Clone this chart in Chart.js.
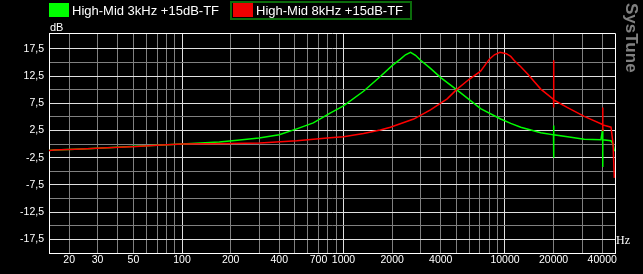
<!DOCTYPE html>
<html>
<head>
<meta charset="utf-8">
<script src="https://cdn.jsdelivr.net/npm/chart.js@4.4.0/dist/chart.umd.min.js"></script>
<style>
  html, body { margin: 0; padding: 0; background: #000; }
  #wrap { width: 643px; height: 274px; }
</style>
</head>
<body>
<div id="wrap"><canvas id="eq"></canvas></div>
<script>
// series labels
const seriesNames = ["High-Mid 3kHz +15dB-TF", "High-Mid 8kHz +15dB-TF"];

// High-Mid 3kHz curve (Hz / dB)
const greenFreq = [15, 16.2, 24, 32, 52, 70, 100, 130, 170, 220, 300, 400, 513, 650, 826, 1000, 1330, 1690, 2000, 2250, 2420, 2600, 2790, 3000, 3455, 4000, 5010, 7063, 9400, 10850, 12520, 16660, 19980, 20000, 20030, 20060, 24410, 30950, 39300, 40270, 40300, 40330, 45350, 46700, 47540, 48000];
const greenDb   = [-1.2, -1.1, -0.9, -0.7, -0.4, -0.2, 0.0, 0.2, 0.4, 0.7, 1.1, 1.7, 2.8, 3.9, 5.7, 7.0, 9.7, 12.4, 14.4, 15.6, 16.4, 16.85, 16.3, 15.4, 13.9, 12.2, 10.0, 6.5, 4.6, 3.8, 3.1, 2.1, 1.7, 3.4, -2.5, 1.7, 1.35, 0.9, 0.8, 2.8, -4.2, 0.8, 0.6, 0.0, -1.2, -1.2];

// High-Mid 8kHz curve (Hz / dB)
const redFreq = [15, 16.2, 24, 32, 52, 70, 100, 198, 304, 513, 826, 1000, 1330, 1690, 1950, 2720, 3455, 4385, 5010, 6000, 7063, 8000, 8600, 9310, 10200, 10850, 11380, 12520, 13770, 16660, 19980, 20000, 20030, 20060, 24410, 30950, 40270, 40300, 40330, 40360, 45350, 46700, 47540];
const redDb   = [-1.2, -1.1, -0.9, -0.7, -0.45, -0.2, 0.0, 0.1, 0.2, 0.6, 1.15, 1.35, 1.95, 2.6, 3.1, 4.6, 6.3, 8.3, 10.0, 11.9, 13.4, 15.6, 16.4, 16.85, 16.6, 16.1, 15.4, 14.2, 12.9, 10.1, 8.2, 15.4, 6.7, 8.1, 6.7, 5.1, 3.6, 6.7, 2.4, 3.5, 3.1, 0.0, -6.2];

// axes
const xGridTicks = [20, 30, 40, 50, 60, 70, 80, 90, 100, 200, 300, 400, 500, 600, 700, 800, 900, 1000, 2000, 3000, 4000, 5000, 6000, 7000, 8000, 9000, 10000, 20000, 30000, 40000];
const xLabelTicks = [20, 30, 50, 100, 200, 400, 700, 1000, 2000, 4000, 10000, 20000, 40000];
const yTicks = [-20, -17.5, -15, -12.5, -10, -7.5, -5, -2.5, 0, 2.5, 5, 7.5, 10, 12.5, 15, 17.5];

const BRIGHT = "#e0e0e0";
const GREY = "#808080";

function toPoints(fr, db) {
  return fr.map((f, i) => ({ x: f, y: db[i] }));
}

const isLabelY = v => Math.abs(Math.round(v / 2.5)) % 2 === 1;
const isDecade = v => [100, 1000, 10000].includes(v);

// frame, legend, dB / Hz labels and watermark
const extras = {
  id: "extras",
  beforeDatasetsDraw(chart) {
    const a = chart.chartArea, c = chart.ctx;
    c.save();
    c.strokeStyle = "#ffffff";
    c.lineWidth = 1;
    c.beginPath();
    c.moveTo(Math.round(a.left) + 0.5, Math.round(a.top) + 0.5);
    c.lineTo(Math.round(a.right) + 0.5, Math.round(a.top) + 0.5);
    c.lineTo(Math.round(a.right) + 0.5, Math.round(a.bottom) + 0.5);
    c.stroke();
    c.restore();
  },
  afterDraw(chart) {
    const c = chart.ctx;
    c.save();
    // legend
    c.font = "13px 'Liberation Sans', Arial, sans-serif";
    c.textBaseline = "middle";
    c.fillStyle = "#00ff00";
    c.fillRect(49, 3, 20, 14);
    c.fillStyle = "#ffffff";
    c.fillText(seriesNames[0], 72, 11);
    c.strokeStyle = "#0b6b0b";
    c.lineWidth = 2;
    c.strokeRect(231, 2, 180, 17);
    c.fillStyle = "#ee0000";
    c.fillRect(233, 3, 20, 14);
    c.fillStyle = "#ffffff";
    c.fillText(seriesNames[1], 256, 11);
    // unit labels
    c.font = "11px 'Liberation Sans', Arial, sans-serif";
    c.textBaseline = "alphabetic";
    c.fillText("dB", 50, 31);
    c.font = "12px 'Liberation Serif', serif";
    c.fillText("Hz", 616, 244);
    // watermark
    c.fillStyle = "#808080";
    c.font = "bold 17px 'Liberation Sans', Arial, sans-serif";
    c.translate(626, 3);
    c.rotate(Math.PI / 2);
    c.fillText("SysTune", 0, 0);
    c.restore();
  }
};

const eqChart = new Chart(document.getElementById("eq"), {
  type: "line",
  data: {
    datasets: [
      {
        label: seriesNames[1],
        data: toPoints(redFreq, redDb),
        borderColor: "#ff0000",
        backgroundColor: "#ff0000",
        borderWidth: 1.5,
        pointRadius: 0,
        tension: 0
      },
      {
        label: seriesNames[0],
        data: toPoints(greenFreq, greenDb),
        borderColor: "#00ff00",
        backgroundColor: "#00ff00",
        borderWidth: 1.5,
        pointRadius: 0,
        tension: 0
      }
    ]
  },
  options: {
    responsive: true,
    maintainAspectRatio: false,
    animation: false,
    layout: { padding: { top: 33, right: 28, left: 0, bottom: 0 } },
    plugins: {
      legend: { display: false },
      tooltip: { enabled: false }
    },
    scales: {
      x: {
        type: "logarithmic",
        min: 15,
        max: 48000,
        afterBuildTicks: s => { s.ticks = xGridTicks.map(v => ({ value: v })); },
        afterFit: s => { s.height = 21; },
        border: { color: "#ffffff", width: 1 },
        grid: {
          drawTicks: false,
          lineWidth: 1,
          color: ctx => (ctx.tick && isDecade(ctx.tick.value)) ? BRIGHT : GREY
        },
        ticks: {
          autoSkip: false,
          maxRotation: 0,
          minRotation: 0,
          padding: 1,
          color: "#ffffff",
          font: { family: "'Liberation Sans', Arial, sans-serif", size: 10.5 },
          callback: v => xLabelTicks.includes(v) ? String(v) : ""
        }
      },
      y: {
        min: -20,
        max: 20.4,
        afterBuildTicks: s => { s.ticks = yTicks.map(v => ({ value: v })); },
        afterFit: s => { s.width = 49; },
        border: { color: "#ffffff", width: 1 },
        grid: {
          drawTicks: false,
          lineWidth: 1,
          color: ctx => (ctx.tick && isLabelY(ctx.tick.value)) ? BRIGHT : GREY
        },
        ticks: {
          autoSkip: false,
          padding: 5,
          color: "#ffffff",
          font: { family: "'Liberation Sans', Arial, sans-serif", size: 10.5 },
          callback: v => isLabelY(v) ? v.toFixed(1).replace(".", ",") : ""
        }
      }
    }
  },
  plugins: [extras]
});
</script>
</body>
</html>
